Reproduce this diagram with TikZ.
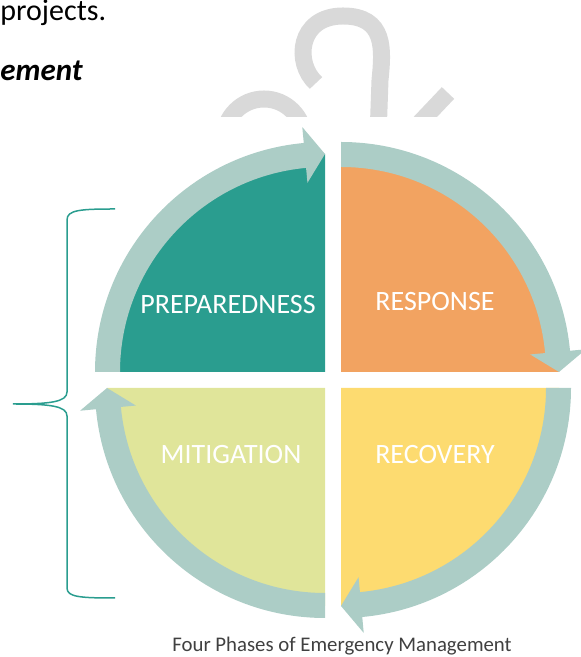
\documentclass[tikz,border=0pt]{standalone}
\usepackage{fontspec}
\setmainfont{Carlito}
\usetikzlibrary{calc}
\definecolor{prepcol}{HTML}{2A9D8F}
\definecolor{respcol}{HTML}{F2A361}
\definecolor{recovcol}{HTML}{FDDB70}
\definecolor{mitigcol}{HTML}{E0E59A}
\definecolor{ringcol}{HTML}{ACCDC6}
\definecolor{markcol}{HTML}{D9D9D9}
\definecolor{capcol}{HTML}{404040}
\tikzstyle{ring}=[fill=ringcol]
\tikzstyle{phase}=[text=white, inner sep=0pt, font=\fontsize{14}{16}\selectfont]
\tikzstyle{wmark}=[draw=markcol, line width=8.5pt]
\tikzstyle{brace}=[draw=prepcol, line width=0.75pt]
\tikzstyle{body}=[anchor=base west, inner sep=0pt, font=\fontsize{15}{18}\selectfont]

\begin{document}
\begin{tikzpicture}[x=0.5pt,y=0.5pt]
  \useasboundingbox (0,0) rectangle (581,657);
  \node[body] (proj) at (0,636) {projects.};
  \node[body, font=\fontsize{15.5}{18}\selectfont\bfseries\itshape] (ement) at (0,576) {ement};
  \begin{scope}
    \clip (0,540) rectangle (581,657);
    \draw[wmark] (264,518) circle[radius=40];
    \draw[wmark] (316,574) .. controls (294,594) and (298,641) .. (343,641) .. controls (386,641) and (383,607) .. (380,577) -- (378,520);
    \draw[wmark] (448,564) -- (412,526);
  \end{scope}
  \coordinate (tl) at (325,285);
  \coordinate (tr) at (341,285);
  \coordinate (br) at (341,269);
  \coordinate (bl) at (325,269);
  \fill[prepcol, shift={(tl)}] (0,0) -- (180:218) arc[start angle=180, end angle=90, radius=218] -- cycle;
  \fill[respcol, shift={(tr)}] (0,0) -- (90:218) arc[start angle=90, end angle=0, radius=218] -- cycle;
  \fill[recovcol, shift={(br)}] (0,0) -- (0:218) arc[start angle=0, end angle=-90, radius=218] -- cycle;
  \fill[mitigcol, shift={(bl)}] (0,0) -- (-90:218) arc[start angle=-90, end angle=-180, radius=218] -- cycle;
  \fill[ring, shift={(tl)}] (180:230) arc[start angle=180, end angle=95.3, radius=230] -- (95.3:246) -- (90:218) -- (95.3:190) -- (95.3:205) arc[start angle=95.3, end angle=180, radius=205] -- cycle;
  \fill[ring, shift={(tr)}] (90:230) arc[start angle=90, end angle=5.3, radius=230] -- (5.3:246) -- (0:218) -- (5.3:190) -- (5.3:205) arc[start angle=5.3, end angle=90, radius=205] -- cycle;
  \fill[ring, shift={(br)}] (0:230) arc[start angle=0, end angle=-84.7, radius=230] -- (-84.7:246) -- (-90:218) -- (-84.7:190) -- (-84.7:205) arc[start angle=-84.7, end angle=0, radius=205] -- cycle;
  \fill[ring, shift={(bl)}] (-90:230) arc[start angle=-90, end angle=-174.7, radius=230] -- (-174.7:246) -- (-180:218) -- (-174.7:190) -- (-174.7:205) arc[start angle=-174.7, end angle=-90, radius=205] -- cycle;
  \node[phase] (prep) at (228,352) {PREPAREDNESS};
  \node[phase] (resp) at (435,355) {RESPONSE};
  \node[phase] (mitig) at (231,202) {MITIGATION};
  \node[phase] (recov) at (435,202) {RECOVERY};
  \coordinate (btop) at (115,448);
  \coordinate (btip) at (13,253);
  \coordinate (bbot) at (115,59);
  \draw[brace] (btop) .. controls (80,448) and (67,447) .. (67,437) -- (67,265) .. controls (67,255) and (50,253) .. (btip) .. controls (50,253) and (67,251) .. (67,241) -- (67,69) .. controls (67,60) and (80,59) .. (bbot);
  \node[text=capcol, anchor=base, inner sep=0pt, font=\fontsize{10.4}{12}\selectfont] (caption) at (342,5) {Four Phases of Emergency Management};
\end{tikzpicture}
\end{document}
